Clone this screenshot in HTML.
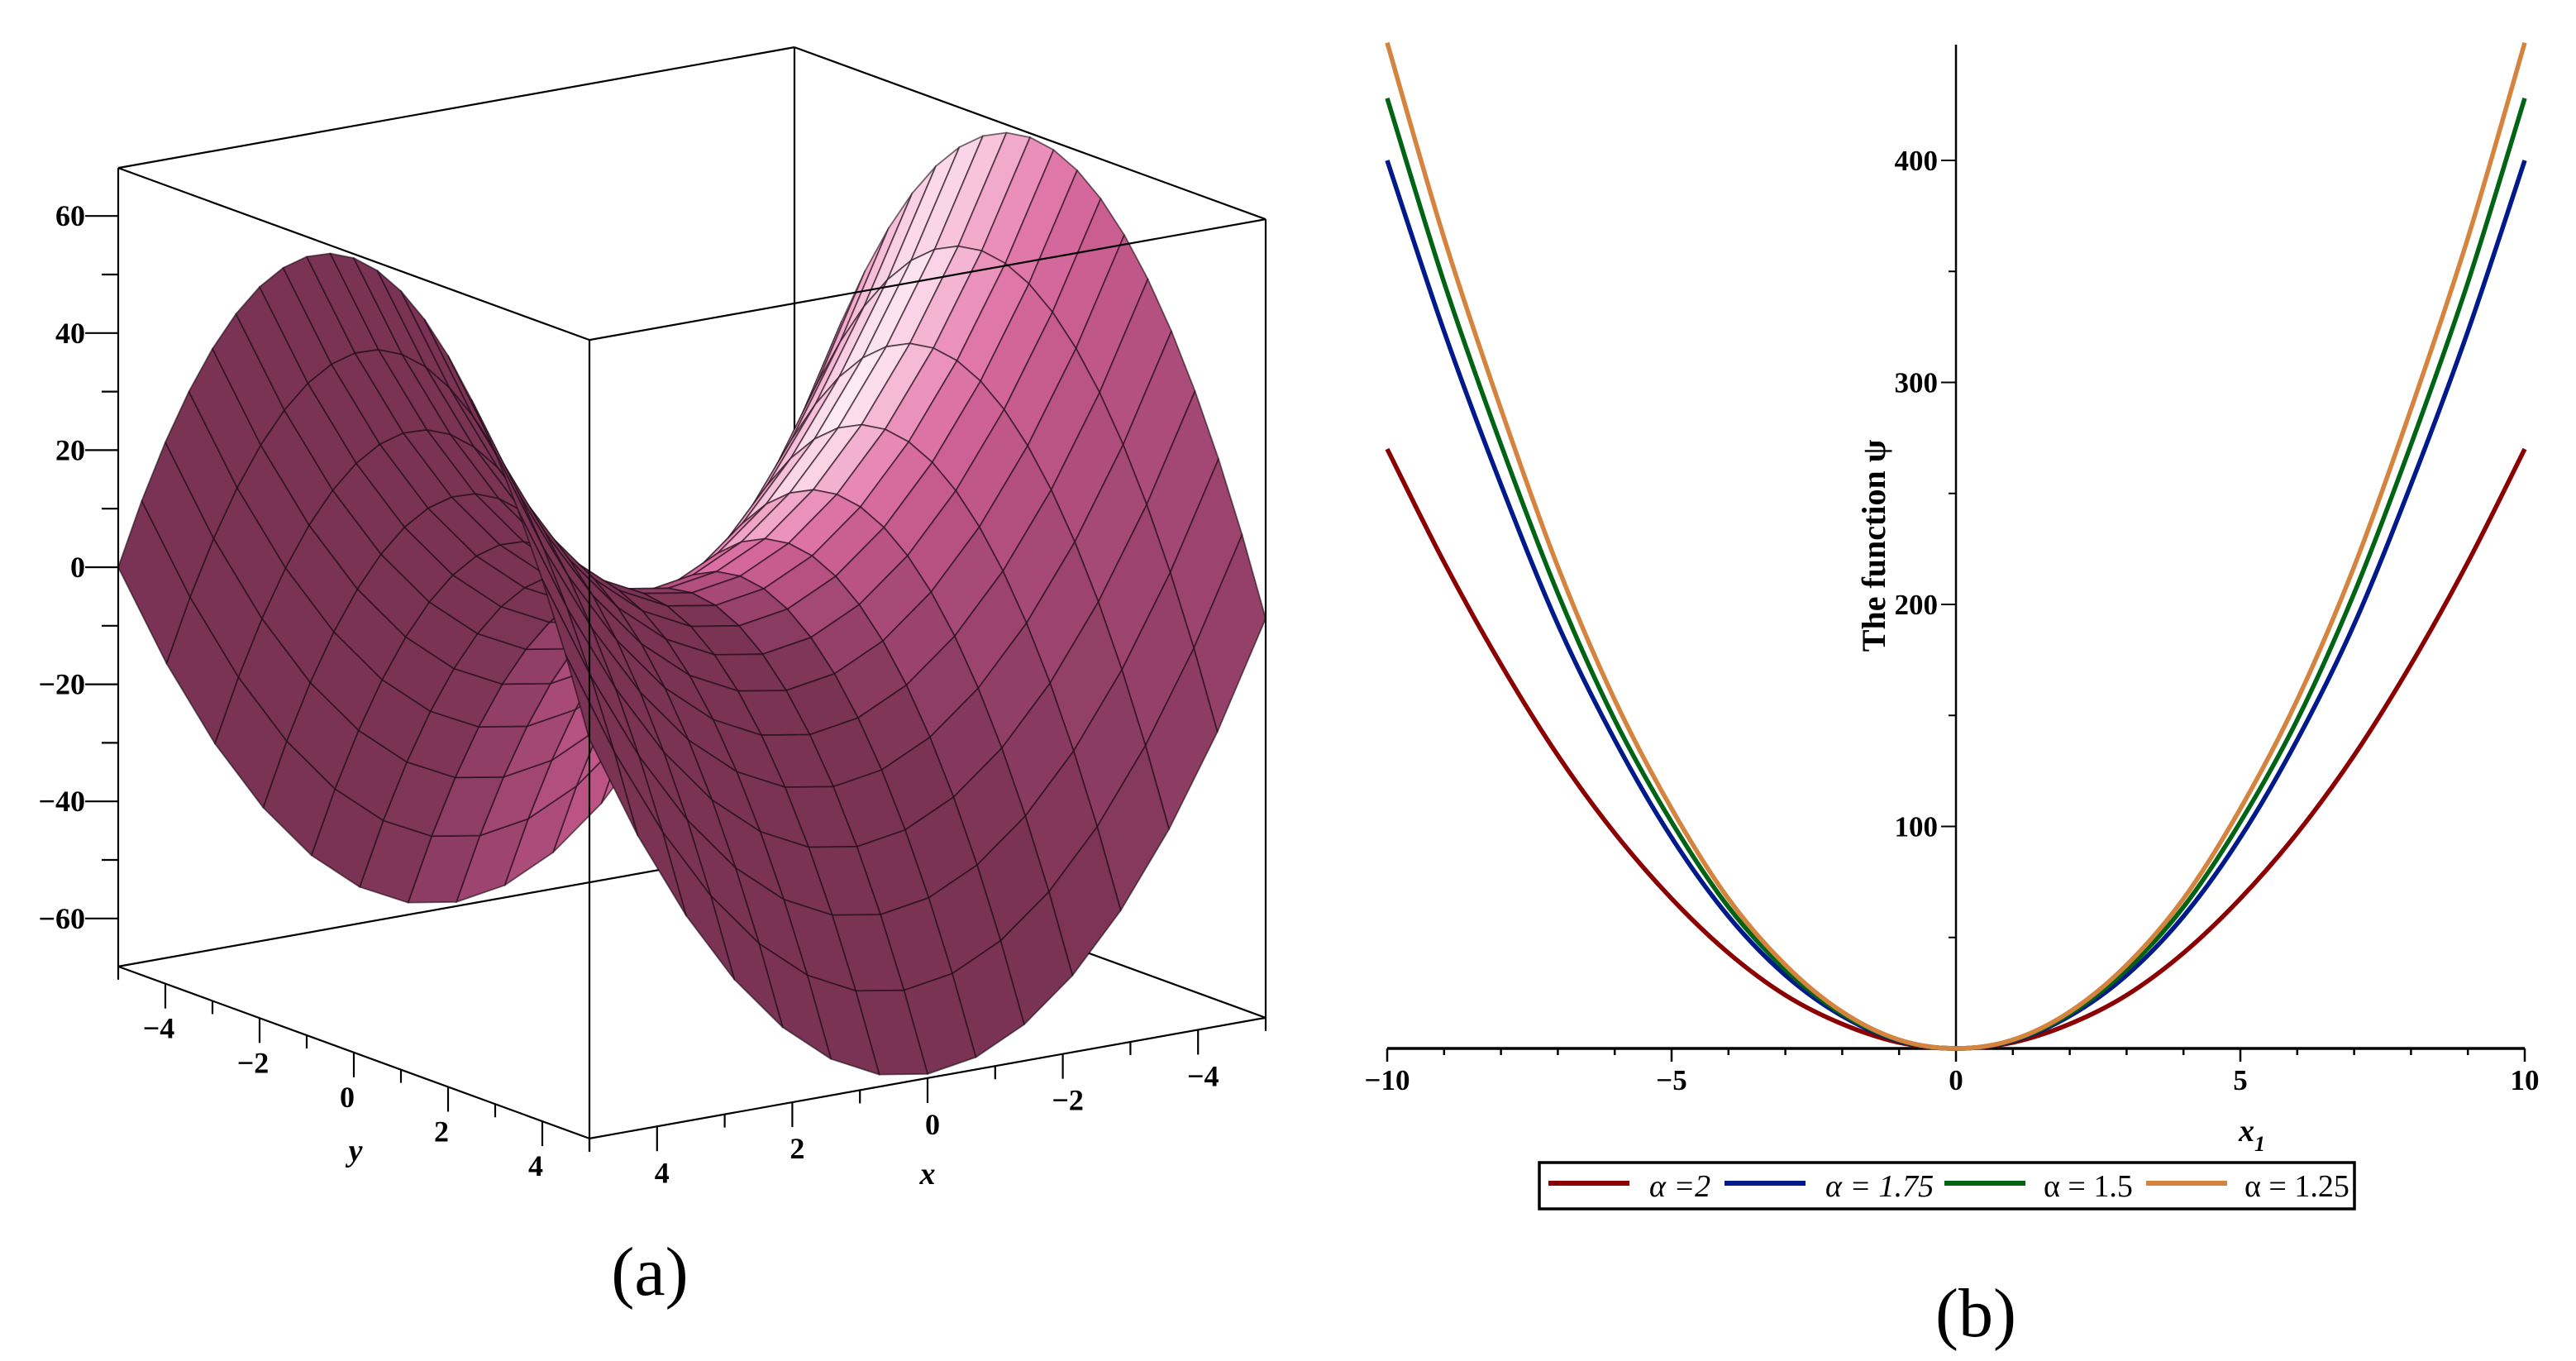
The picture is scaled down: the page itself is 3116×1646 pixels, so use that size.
<!DOCTYPE html>
<html><head><meta charset="utf-8"><style>
html,body{margin:0;padding:0;background:#fff;}
svg{display:block;}
text{font-family:"Liberation Serif",serif;}
</style></head><body>
<svg id="fig" width="3116" height="1646" viewBox="0 0 3116 1646" xmlns="http://www.w3.org/2000/svg">
<rect width="3116" height="1646" fill="#fff"/>
<g id="left"></g>
<g id="right"></g>
<text x="786" y="1566" font-size="84" text-anchor="middle">(a)</text>
<text x="2390" y="1616" font-size="84" text-anchor="middle">(b)</text>
</svg>
<script>
// ---------- Chart (b) data ----------
const xValues = [-10,-9,-8,-7,-6,-5,-4,-3,-2,-1,0,1,2,3,4,5,6,7,8,9,10];
const psiAlpha2    = [270,219,173,132,97,67.5,43,24,11,2.7,0,2.7,11,24,43,67.5,97,132,173,219,270];
const psiAlpha175  = [400,323,254,191,139,95,59.5,33,14.6,3.4,0,3.4,14.6,33,59.5,95,139,191,254,323,400];
const psiAlpha15   = [428,345,272,205,148,102,63.7,35.5,15.6,3.7,0,3.7,15.6,35.5,63.7,102,148,205,272,345,428];
const psiAlpha125  = [453,365,288,217,157,108,67.4,37.6,16.5,3.9,0,3.9,16.5,37.6,67.4,108,157,217,288,365,453];
const seriesLabels = ["α =2","α = 1.75","α = 1.5","α = 1.25"];
const xTickLabels = [-10,-5,0,5,10];
const yTickLabels = [100,200,300,400];
// ---------- Chart (a) data ----------
const zTickLabels = [-60,-40,-20,0,20,40,60];
const yAxisTicks3d = [-4,-2,0,2,4];
const xAxisTicks3d = [4,2,0,-2,-4];
const saddleCoef = 2.7;

const NS="http://www.w3.org/2000/svg";
function mk(parent,tag,attrs,txt){const e=document.createElementNS(NS,tag);for(const k in attrs)e.setAttribute(k,attrs[k]);if(txt!==undefined)e.textContent=txt;parent.appendChild(e);return e;}
function fmt(v){return v<0?"−"+(-v):""+v;}

// ===== Right chart =====
(function(){
const g=document.getElementById('right');
const X0=2366, UX=68.8, Y0=1268, UY=2.685;
const xs=v=>X0+v*UX, ys=v=>Y0-v*UY;
let e=mk(g,'line',{x1:xs(-10),x2:xs(10),y1:Y0,y2:Y0,stroke:'#000','stroke-width':3.5});

for(let v=-10;v<=10;v++){const maj=v%5===0;
 e=mk(g,'line',{x1:xs(v),x2:xs(v),y1:Y0,y2:Y0+(maj?16:8),stroke:'#000','stroke-width':2.5});
 }
xTickLabels.forEach(v=>{e=mk(g,'text',{x:xs(v),y:Y0+50,'font-size':35,'font-weight':'bold','text-anchor':'middle'},fmt(v));
 });
e=mk(g,'text',{x:2708,y:1380,'font-size':38,'font-weight':'bold','font-style':'italic'});

e.innerHTML='x<tspan font-size="26" dy="12">1</tspan>';
e=mk(g,'line',{x1:X0,x2:X0,y1:Y0,y2:54,stroke:'#000','stroke-width':2.5});

for(let v=50;v<=400;v+=50){const maj=v%100===0;
 e=mk(g,'line',{x1:X0-(maj?18:9),x2:X0,y1:ys(v),y2:ys(v),stroke:'#000','stroke-width':2});
 }
yTickLabels.forEach(v=>{e=mk(g,'text',{x:X0-22,y:ys(v)+12,'font-size':35,'font-weight':'bold','text-anchor':'end'},v);
 });
e=mk(g,'text',{x:0,y:0,'font-size':40,'font-weight':'bold','text-anchor':'middle',transform:'translate(2280,660) rotate(-90)'},'The function ψ');

const series=[psiAlpha2,psiAlpha175,psiAlpha15,psiAlpha125];
const colors=['#8b0000','#001a8b','#006414','#d5843f'];
const names=['curve-alpha-2','curve-alpha-1-75','curve-alpha-1-5','curve-alpha-1-25'];
series.forEach((s,i)=>{
 const p=xValues.map((x,j)=>[xs(x),ys(s[j])]);
 let d='M'+p[0][0]+','+p[0][1];
 for(let j=0;j<p.length-1;j++){const a=p[Math.max(0,j-1)],b=p[j],c=p[j+1],dd=p[Math.min(p.length-1,j+2)];
  d+=` C${b[0]+(c[0]-a[0])/6},${b[1]+(c[1]-a[1])/6} ${c[0]-(dd[0]-b[0])/6},${c[1]-(dd[1]-b[1])/6} ${c[0]},${c[1]}`;}
 const el=mk(g,'path',{d:d,fill:'none',stroke:colors[i],'stroke-width':5.5});
 
 
});
const lg=mk(g,'g',{});

mk(lg,'rect',{x:1862,y:1406,width:986,height:56,fill:'#fff',stroke:'#000','stroke-width':3.5});
const lx=[1873,2086,2352,2596], tx=[1995,2208,2472,2715];
seriesLabels.forEach((t,i)=>{
 let l=mk(lg,'line',{x1:lx[i],x2:lx[i]+98,y1:1431,y2:1431,stroke:colors[i],'stroke-width':6});
 
 let tt=mk(lg,'text',{x:tx[i],y:1447,'font-size':38,'font-style':i<2?'italic':'normal'},t);
 
});
})();

// ===== Left 3D chart =====
(function(){
const g=document.getElementById('left');
const C=[837,717], ex=[-81.8,14.6], ey=[57,20.8], ez=-7.08, ZM=68.2;
const P=(x,y,z)=>[C[0]+x*ex[0]+y*ey[0], C[1]+x*ex[1]+y*ey[1]+z*ez];
const f=(x,y)=>saddleCoef*(x*x-y*y);
const line=(a,b,w,nm)=>{const e=mk(g,'line',{x1:a[0],y1:a[1],x2:b[0],y2:b[1],stroke:'#000','stroke-width':w||2.2});
 return e;};
line(P(-5,-5,ZM),P(-5,-5,-ZM));
line(P(-5,-5,-ZM),P(5,-5,-ZM));
line(P(-5,-5,-ZM),P(-5,5,-ZM));
const NX=14, NY=20, polys=[];
for(let i=0;i<NX;i++)for(let j=0;j<NY;j++){
 const x0=-5+10*i/NX,x1=-5+10*(i+1)/NX,y0=-5+10*j/NY,y1=-5+10*(j+1)/NY;
 const xm=(x0+x1)/2, ym=(y0+y1)/2;
 let nx=-0.46*xm, ny=0.46*ym, nz=1; const L=Math.hypot(nx,ny,nz); nx/=L;ny/=L;nz/=L;
 const lv=[0.8,-0.3,0.52]; const ll=Math.hypot(...lv);
 let d=Math.max(0,(nx*lv[0]+ny*lv[1]+nz*lv[2])/ll);
 const dark=[122,51,85], pink=[240,110,172];
 let t=Math.max(0,(d-0.25)/0.75); t=Math.pow(t,1.3);
 let c=dark.map((v,k)=>v+(pink[k]-v)*t);
 const sp=Math.pow(d,16)*0.85;
 c=c.map(v=>Math.round(v+(255-v)*sp));
 const pts=[P(x0,y0,f(x0,y0)),P(x1,y0,f(x1,y0)),P(x1,y1,f(x1,y1)),P(x0,y1,f(x0,y1))];
 polys.push({depth:xm+ym,pts,c});
}
polys.sort((a,b)=>a.depth-b.depth);
const sg=mk(g,'g',{});

polys.forEach(p=>{mk(sg,'polygon',{points:p.pts.map(q=>q[0].toFixed(1)+','+q[1].toFixed(1)).join(' '),
 fill:`rgb(${p.c.join(',')})`,stroke:'rgba(25,8,18,0.6)','stroke-width':1.8,'stroke-linejoin':'round'});});
line(P(5,-5,ZM),P(-5,-5,ZM));line(P(-5,-5,ZM),P(-5,5,ZM));line(P(-5,5,ZM),P(5,5,ZM));line(P(5,5,ZM),P(5,-5,ZM));
line(P(5,-5,ZM),P(5,-5,-ZM));line(P(5,5,ZM),P(5,5,-ZM));line(P(-5,5,ZM),P(-5,5,-ZM));
line(P(5,-5,-ZM),P(5,5,-ZM));line(P(5,5,-ZM),P(-5,5,-ZM));
for(let v=-60;v<=60;v+=10){const a=P(5,-5,v);const maj=v%20===0;
 line([a[0]-(maj?40:20),a[1]],a,2.2,'z-tick');}
zTickLabels.forEach(v=>{const a=P(5,-5,v);
 const e=mk(g,'text',{x:a[0]-40,y:a[1]+12,'font-size':36,'font-weight':'bold','text-anchor':'end'},fmt(v));
 });
for(let v=-5;v<=5;v++){const a=P(5,v,-ZM);const maj=v%2===0;line(a,[a[0],a[1]+(maj?30:16)],2.2,'y-tick');}
yAxisTicks3d.forEach(v=>{const a=P(5,v,-ZM);
 const e=mk(g,'text',{x:a[0]-8,y:a[1]+66,'font-size':36,'font-weight':'bold','text-anchor':'middle'},fmt(v));
 });
for(let v=-5;v<=5;v++){const a=P(v,5,-ZM);const maj=v%2===0;line(a,[a[0],a[1]+(maj?30:16)],2.2,'x-tick');}
xAxisTicks3d.forEach(v=>{const a=P(v,5,-ZM);
 const e=mk(g,'text',{x:a[0]+6,y:a[1]+68,'font-size':36,'font-weight':'bold','text-anchor':'middle'},fmt(v));
 });
let e=mk(g,'text',{x:430,y:1404,'font-size':38,'font-weight':'bold','font-style':'italic','text-anchor':'middle'},'y');

e=mk(g,'text',{x:1122,y:1432,'font-size':38,'font-weight':'bold','font-style':'italic','text-anchor':'middle'},'x');

})();
</script>
</body></html>
